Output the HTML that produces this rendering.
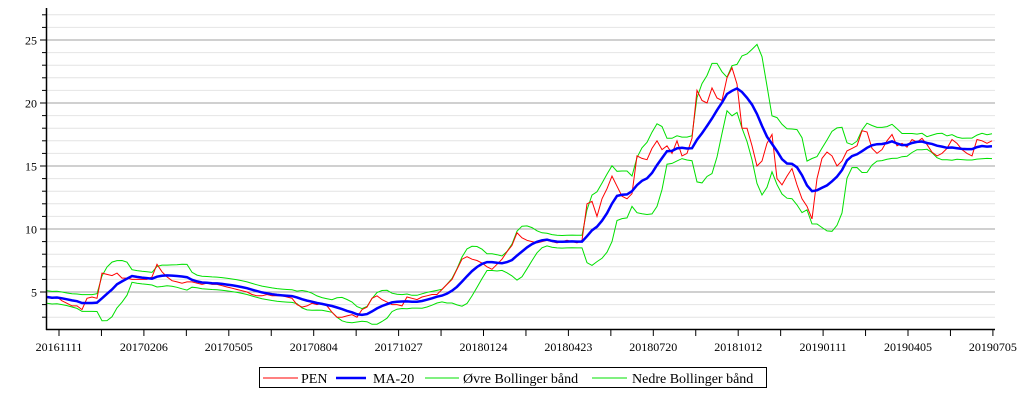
<!DOCTYPE html>
<html><head><meta charset="utf-8"><style>
html,body{margin:0;padding:0;background:#fff;}
svg{display:block;font-family:"Liberation Serif",serif;}
</style></head><body>
<svg id="chart" width="1026" height="400" viewBox="0 0 1026 400" xmlns="http://www.w3.org/2000/svg">
<g id="grid"></g>
<g id="series"></g>
<g id="axes"></g>
<g>
<rect x="259.5" y="367.5" width="507" height="20" fill="#fff" stroke="#000" stroke-width="1"/>
<line x1="263" y1="378" x2="298" y2="378" stroke="#ff0000" stroke-width="1"/>
<text x="301" y="383" font-size="14">PEN</text>
<line x1="336" y1="378" x2="366" y2="378" stroke="#0000ff" stroke-width="2.5"/>
<text x="373" y="383" font-size="14">MA-20</text>
<line x1="425" y1="378" x2="459" y2="378" stroke="#00e000" stroke-width="1"/>
<text x="463" y="383" font-size="14">Øvre Bollinger bånd</text>
<line x1="592" y1="378" x2="627" y2="378" stroke="#00e000" stroke-width="1"/>
<text x="632" y="383" font-size="14">Nedre Bollinger bånd</text>
</g>
</svg>
<script>
const pen = [4.6,4.5,4.6,4.3,4.1,3.9,3.9,3.6,4.5,4.6,4.5,6.5,6.4,6.3,6.5,6.1,6.1,6.0,6.0,6.0,6.0,6.2,7.2,6.6,6.2,5.9,5.8,5.7,5.8,5.8,5.7,5.6,5.7,5.6,5.6,5.5,5.4,5.3,5.2,5.1,5.0,4.8,4.7,4.7,4.8,4.7,4.7,4.7,4.6,4.5,4.0,3.8,3.9,4.1,4.0,4.1,3.9,3.4,3.0,3.0,3.1,3.2,3.0,3.6,3.8,4.5,4.7,4.4,4.2,4.0,4.0,3.9,4.6,4.5,4.4,4.6,4.7,4.8,4.8,5.2,5.6,6.0,6.8,7.6,7.8,7.6,7.5,7.3,7.0,6.8,7.2,7.6,8.2,8.7,9.7,9.3,9.1,9.0,8.9,9.0,9.1,9.0,8.9,9.0,9.1,9.0,8.9,9.1,12.0,12.2,11.0,12.4,13.2,14.2,13.4,12.6,12.4,12.8,15.8,15.6,15.5,16.4,17.0,16.3,16.6,16.0,17.0,15.8,16.0,17.2,21.0,20.2,20.0,21.2,20.4,20.2,22.0,22.8,21.5,18.0,18.0,16.6,15.0,15.4,16.8,17.5,14.0,13.5,14.2,14.8,13.5,12.4,11.8,10.8,14.0,15.6,16.1,15.8,15.0,15.4,16.2,16.4,16.6,17.8,17.7,16.4,16.0,16.3,17.0,17.5,16.6,16.8,16.5,17.1,16.9,17.2,16.7,16.1,15.8,16.0,16.4,17.1,16.8,16.3,16.0,15.8,17.1,17.0,16.8,17.0];
const tickLabels = ["20161111","20170206","20170505","20170804","20171027","20180124","20180423","20180720","20181012","20190111","20190405","20190705"];
const yTickValues = [5,10,15,20,25];
const maWindow = 7;

const NS = "http://www.w3.org/2000/svg";
const X0 = 47, X1 = 992;
const xs = i => X0 + i * (X1 - X0) / (pen.length - 1);
const ys = v => 355 - v * 12.6;
function mk(tag, attrs, parent){const e=document.createElementNS(NS,tag);for(const k in attrs)e.setAttribute(k,attrs[k]);parent.appendChild(e);return e;}

const grid = document.getElementById('grid'), axes = document.getElementById('axes'), series = document.getElementById('series');
// gridlines
for (let v = 3; v <= 27; v++) {
  const major = v % 5 === 0;
  const l = mk('line',{x1:46,x2:995,y1:ys(v),y2:ys(v),stroke:major?'#a0a0a0':'#e4e4e4','stroke-width':1},grid);
  
  
  const t = mk('line',{x1:major?40:42,x2:46,y1:ys(v),y2:ys(v),stroke:'#000','stroke-width':1},axes);
  
  
}
yTickValues.forEach(v => {
  const t = mk('text',{x:37,y:ys(v)+4.5,'text-anchor':'end','font-size':12},axes);
  t.textContent = v;
  
  
});
// axes
const ya = mk('line',{x1:46.5,x2:46.5,y1:8,y2:330,stroke:'#000','stroke-width':1.5},axes);


const xa = mk('line',{x1:46,x2:995,y1:329.5,y2:329.5,stroke:'#000','stroke-width':1.5},axes);


// x ticks: labels every 16.98 sample steps starting at 2.4
const labelStep = 16.98, labelStart = 2.4;
for (let k = 0; k < tickLabels.length * 2 - 1; k++) {
  const xi = xs(labelStart + k * labelStep / 2);
  const t = mk('line',{x1:xi,x2:xi,y1:329,y2:336,stroke:'#000','stroke-width':1},axes);
  
  
}
tickLabels.forEach((lab, k) => {
  const t = mk('text',{x:xs(labelStart + k * labelStep),y:351,'text-anchor':'middle','font-size':12},axes);
  t.textContent = lab;
  
  
});
// derived series
const ma = [], up = [], lo = [];
pen.forEach((v, i) => {
  const w = pen.slice(Math.max(0, i - maWindow + 1), i + 1);
  const m = w.reduce((a, b) => a + b, 0) / w.length;
  const sd = Math.sqrt(w.reduce((a, b) => a + (b - m) * (b - m), 0) / w.length);
  const s = Math.max(sd, 0.25);
  ma.push(m); up.push(m + 2 * s); lo.push(m - 2 * s);
});
const pts = arr => arr.map((v, i) => xs(i).toFixed(1) + ',' + ys(v).toFixed(1)).join(' ');
const pu = mk('polyline',{points:pts(up),fill:'none',stroke:'#00e000','stroke-width':1},series);


const pl = mk('polyline',{points:pts(lo),fill:'none',stroke:'#00e000','stroke-width':1},series);


const pp = mk('polyline',{points:pts(pen),fill:'none',stroke:'#ff0000','stroke-width':1},series);


const pm = mk('polyline',{points:pts(ma),fill:'none',stroke:'#0000ff','stroke-width':2.5},series);


</script>
</body></html>
